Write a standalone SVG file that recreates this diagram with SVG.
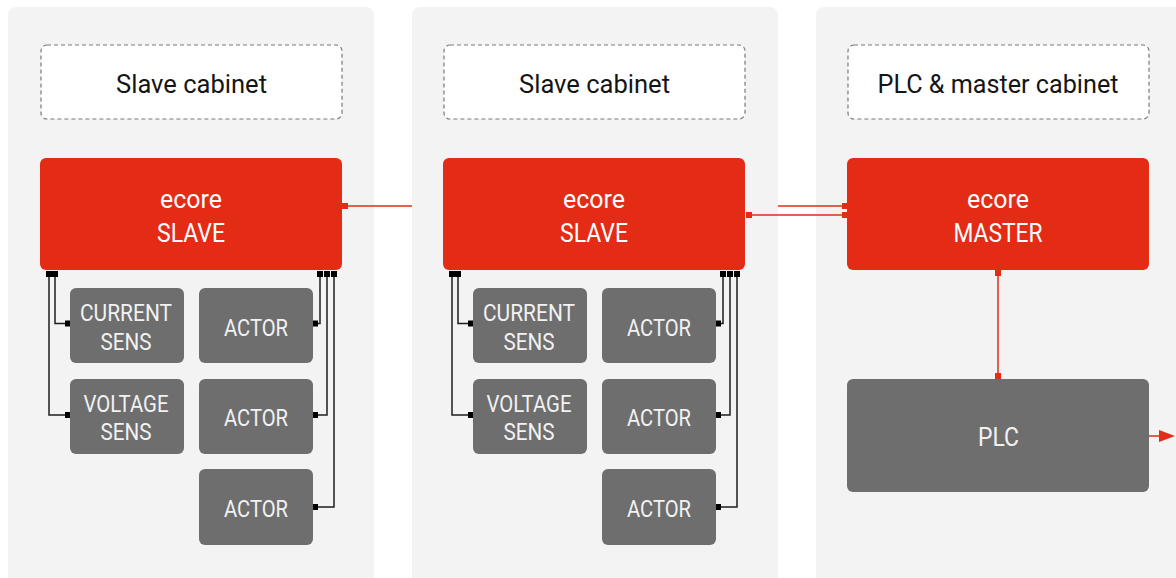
<svg xmlns="http://www.w3.org/2000/svg" width="1176" height="578" viewBox="0 0 1176 578">
<defs>
<style>
.panel{fill:#f3f3f3}
.hdr{fill:#ffffff;stroke:#7a7a7a;stroke-width:1.2;stroke-dasharray:4 3}
.hdrt{font-family:Roboto,"Liberation Sans",sans-serif;font-size:25px;fill:#151515;text-anchor:middle}
.red{fill:#e32b15}
.redt{font-family:Roboto,"Liberation Sans",sans-serif;font-size:26px;fill:#ffffff;text-anchor:middle}
.gray{fill:#6e6e6e}
.grayt{font-family:Roboto,"Liberation Sans",sans-serif;font-size:23px;fill:#f2f2f2;text-anchor:middle}
.wire{fill:none;stroke:#1e1e1e;stroke-width:1.5}
.pin{fill:#000000}
.rwire{fill:none;stroke:#e32b15;stroke-width:1.5}
.rpin{fill:#e32b15}
</style>
<g id="slave-wires">
<rect class="pin" x="46" y="271" width="12" height="6"/>
<rect class="pin" x="317" y="271" width="6" height="6"/>
<rect class="pin" x="324" y="271" width="6" height="6"/>
<rect class="pin" x="331" y="271" width="6" height="6"/>
<path class="wire" d="M49,277 V415 H66"/>
<path class="wire" d="M55,277 V323.5 H66"/>
<path class="wire" d="M320,277 V323.5 H314"/>
<path class="wire" d="M327,277 V415 H314"/>
<path class="wire" d="M334,277 V507 H314"/>
<rect class="pin" x="65" y="320.5" width="6" height="6"/>
<rect class="pin" x="65" y="412" width="6" height="6"/>
<rect class="pin" x="312" y="320.5" width="6" height="6"/>
<rect class="pin" x="312" y="412" width="6" height="6"/>
<rect class="pin" x="312" y="504" width="6" height="6"/>
</g>
</defs>

<g id="panels">
<rect class="panel" x="8" y="7" width="366" height="590" rx="8"/>
<rect class="panel" x="412" y="7" width="366" height="590" rx="8"/>
<rect class="panel" x="816" y="7" width="380" height="590" rx="8"/>
</g>

<g id="header-left">
<rect class="hdr" x="41" y="45" width="301" height="74" rx="6"/>
<text class="hdrt" x="191.5" y="93" textLength="151" lengthAdjust="spacingAndGlyphs">Slave cabinet</text>
</g>
<g id="header-mid">
<rect class="hdr" x="444" y="45" width="301" height="74" rx="6"/>
<text class="hdrt" x="594.5" y="93" textLength="151" lengthAdjust="spacingAndGlyphs">Slave cabinet</text>
</g>
<g id="header-right">
<rect class="hdr" x="848" y="45" width="301" height="74" rx="6"/>
<text class="hdrt" x="998" y="93" textLength="241" lengthAdjust="spacingAndGlyphs">PLC &amp; master cabinet</text>
</g>

<g id="connectors">
<use href="#slave-wires"/>
<use href="#slave-wires" transform="translate(403,0)"/>
<rect class="rpin" x="342" y="203" width="6" height="6"/>
<path class="rwire" d="M348,206 H412"/>
<path class="rwire" d="M778,206 H842"/>
<rect class="rpin" x="842" y="203" width="6" height="6"/>
<rect class="rpin" x="746" y="212" width="6" height="6"/>
<path class="rwire" d="M752,215 H842"/>
<rect class="rpin" x="842" y="212" width="6" height="6"/>
<rect class="rpin" x="995" y="270" width="6" height="6"/>
<path class="rwire" d="M998,276 V373"/>
<rect class="rpin" x="995" y="373" width="6" height="6"/>
<path class="rwire" d="M1149,436 H1161"/>
<polygon class="rpin" points="1159,430 1175,436 1159,442"/>
</g>

<g id="slave-left">
<rect class="red" x="40" y="158" width="302" height="112" rx="6"/>
<text class="redt" x="191" y="208" textLength="62" lengthAdjust="spacingAndGlyphs">ecore</text>
<text class="redt" x="191" y="241.5" textLength="68" lengthAdjust="spacingAndGlyphs">SLAVE</text>
</g>
<g id="current-left">
<rect class="gray" x="70" y="288" width="114" height="75" rx="6"/>
<text class="grayt" x="126" y="321" textLength="92" lengthAdjust="spacingAndGlyphs">CURRENT</text>
<text class="grayt" x="126" y="350" textLength="51" lengthAdjust="spacingAndGlyphs">SENS</text>
</g>
<g id="voltage-left">
<rect class="gray" x="70" y="379" width="114" height="75" rx="6"/>
<text class="grayt" x="126" y="411.5" textLength="85" lengthAdjust="spacingAndGlyphs">VOLTAGE</text>
<text class="grayt" x="126" y="440" textLength="51" lengthAdjust="spacingAndGlyphs">SENS</text>
</g>
<g id="actor1-left">
<rect class="gray" x="199" y="288" width="114" height="75" rx="6"/>
<text class="grayt" x="256" y="336" textLength="64" lengthAdjust="spacingAndGlyphs">ACTOR</text>
</g>
<g id="actor2-left">
<rect class="gray" x="199" y="379" width="114" height="75" rx="6"/>
<text class="grayt" x="256" y="426" textLength="64" lengthAdjust="spacingAndGlyphs">ACTOR</text>
</g>
<g id="actor3-left">
<rect class="gray" x="199" y="469" width="114" height="76" rx="6"/>
<text class="grayt" x="256" y="516.5" textLength="64" lengthAdjust="spacingAndGlyphs">ACTOR</text>
</g>

<g id="slave-mid">
<rect class="red" x="443" y="158" width="302" height="112" rx="6"/>
<text class="redt" x="594" y="208" textLength="62" lengthAdjust="spacingAndGlyphs">ecore</text>
<text class="redt" x="594" y="241.5" textLength="68" lengthAdjust="spacingAndGlyphs">SLAVE</text>
</g>
<g id="current-mid">
<rect class="gray" x="473" y="288" width="114" height="75" rx="6"/>
<text class="grayt" x="529" y="321" textLength="92" lengthAdjust="spacingAndGlyphs">CURRENT</text>
<text class="grayt" x="529" y="350" textLength="51" lengthAdjust="spacingAndGlyphs">SENS</text>
</g>
<g id="voltage-mid">
<rect class="gray" x="473" y="379" width="114" height="75" rx="6"/>
<text class="grayt" x="529" y="411.5" textLength="85" lengthAdjust="spacingAndGlyphs">VOLTAGE</text>
<text class="grayt" x="529" y="440" textLength="51" lengthAdjust="spacingAndGlyphs">SENS</text>
</g>
<g id="actor1-mid">
<rect class="gray" x="602" y="288" width="114" height="75" rx="6"/>
<text class="grayt" x="659" y="336" textLength="64" lengthAdjust="spacingAndGlyphs">ACTOR</text>
</g>
<g id="actor2-mid">
<rect class="gray" x="602" y="379" width="114" height="75" rx="6"/>
<text class="grayt" x="659" y="426" textLength="64" lengthAdjust="spacingAndGlyphs">ACTOR</text>
</g>
<g id="actor3-mid">
<rect class="gray" x="602" y="469" width="114" height="76" rx="6"/>
<text class="grayt" x="659" y="516.5" textLength="64" lengthAdjust="spacingAndGlyphs">ACTOR</text>
</g>

<g id="master">
<rect class="red" x="847" y="158" width="302" height="112" rx="6"/>
<text class="redt" x="998" y="208" textLength="62" lengthAdjust="spacingAndGlyphs">ecore</text>
<text class="redt" x="998" y="241.5" textLength="89" lengthAdjust="spacingAndGlyphs">MASTER</text>
</g>
<g id="plc">
<rect class="gray" x="847" y="379" width="302" height="113" rx="6"/>
<text class="grayt" x="998.5" y="445.5" style="font-size:25px" textLength="41" lengthAdjust="spacingAndGlyphs">PLC</text>
</g>
</svg>
